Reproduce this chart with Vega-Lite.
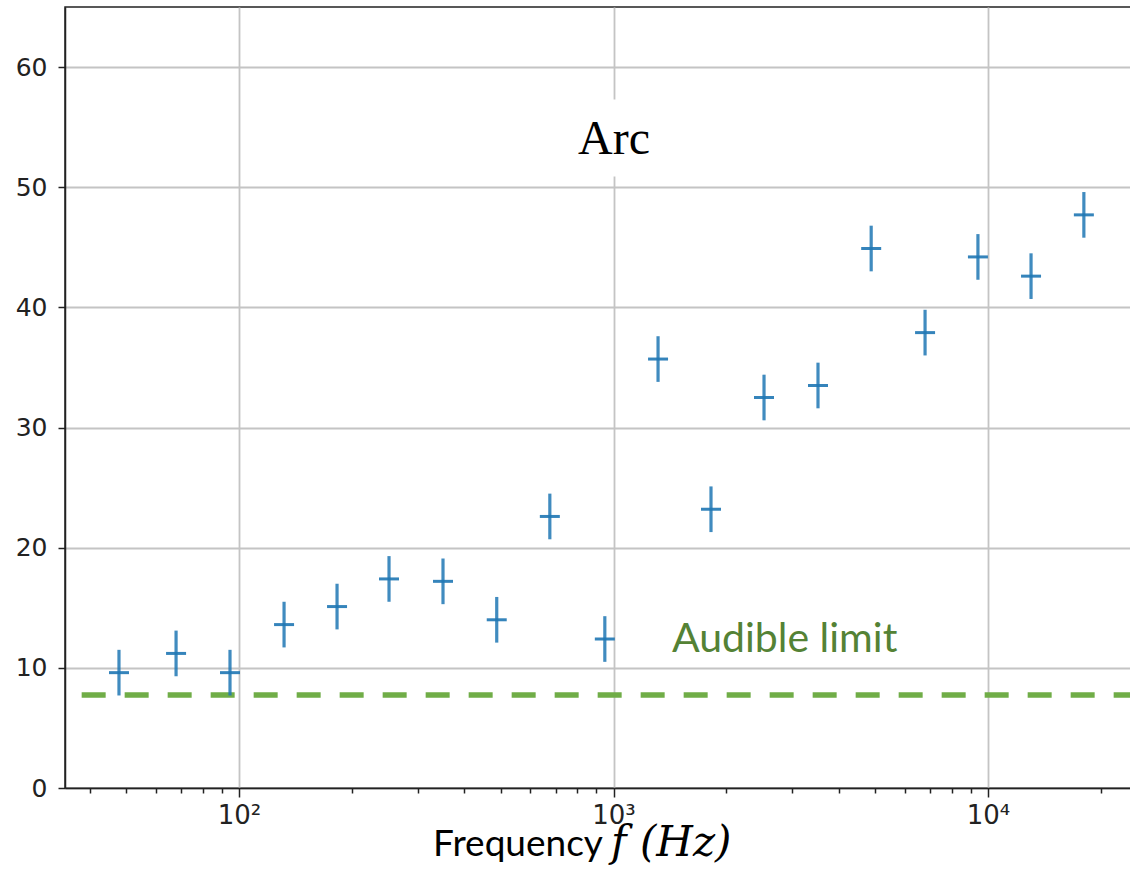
{
  "$schema": "https://vega.github.io/schema/vega-lite/v6.json",
  "width": 1067,
  "height": 781,
  "autosize": "none",
  "padding": {"left": 65, "top": 7, "right": 0, "bottom": 90},
  "background": "white",
  "datasets": {
    "points": [
      {"f": 47.8, "v": 9.6, "err": 1.9},
      {"f": 67.9, "v": 11.2, "err": 1.9},
      {"f": 94.6, "v": 9.6, "err": 1.9},
      {"f": 131.9, "v": 13.6, "err": 1.9},
      {"f": 182.7, "v": 15.1, "err": 1.9},
      {"f": 251.5, "v": 17.4, "err": 1.9},
      {"f": 350.5, "v": 17.2, "err": 1.9},
      {"f": 487.7, "v": 14.0, "err": 1.9},
      {"f": 676, "v": 22.6, "err": 1.9},
      {"f": 948, "v": 12.4, "err": 1.9},
      {"f": 1315, "v": 35.7, "err": 1.9},
      {"f": 1821, "v": 23.2, "err": 1.9},
      {"f": 2523, "v": 32.5, "err": 1.9},
      {"f": 3516, "v": 33.5, "err": 1.9},
      {"f": 4876, "v": 44.9, "err": 1.9},
      {"f": 6791, "v": 37.9, "err": 1.9},
      {"f": 9400, "v": 44.2, "err": 1.9},
      {"f": 13030, "v": 42.6, "err": 1.9},
      {"f": 18030, "v": 47.7, "err": 1.9}
    ],
    "one": [{"k": 1}]
  },
  "resolve": {"axis": {"x": "independent"}},
  "layer": [
    {
      "data": {"name": "one"},
      "mark": {"type": "rect", "color": "white"},
      "encoding": {
        "x": {"datum": 760, "type": "quantitative", "scale": {"type": "log", "domain": [34.3, 24240], "nice": false}, "axis": null},
        "x2": {"datum": 1300},
        "y": {"datum": 50.9, "type": "quantitative", "scale": {"domain": [0, 65], "nice": false}, "title": null},
        "y2": {"datum": 57.3}
      }
    },
    {
      "data": {"name": "one"},
      "mark": {"type": "rule", "color": "#70AD47", "strokeWidth": 5.5, "strokeDash": [24, 19]},
      "encoding": {
        "x": {"datum": 38.0, "type": "quantitative", "axis": {"orient": "bottom", "values": [40, 50, 60, 70, 80, 90, 200, 300, 400, 500, 600, 700, 800, 900, 2000, 3000, 4000, 5000, 6000, 7000, 8000, 9000, 20000], "labels": false, "grid": false, "domain": false, "tickSize": 5, "title": null}},
        "x2": {"datum": 24240},
        "y": {"datum": 7.75, "type": "quantitative", "title": null}
      }
    },
    {
      "data": {"name": "points"},
      "mark": {"type": "errorbar", "color": "#1f77b4", "opacity": 0.85, "thickness": 3.2},
      "encoding": {
        "x": {"field": "f", "type": "quantitative", "axis": {"orient": "bottom", "values": [100, 1000, 10000], "labelExpr": "datum.value == 100 ? '10²' : datum.value == 1000 ? '10³' : '10⁴'", "grid": true, "tickSize": 9, "labelPadding": 5, "labelFontSize": 26, "title": null}},
        "y": {"field": "v", "type": "quantitative", "axis": {"values": [0, 10, 20, 30, 40, 50, 60], "title": null, "grid": true}},
        "yError": {"field": "err"}
      }
    },
    {
      "data": {"name": "points"},
      "mark": {"type": "tick", "orient": "horizontal", "color": "#1f77b4", "opacity": 0.9, "size": 20, "thickness": 3},
      "encoding": {
        "x": {"field": "f", "type": "quantitative", "axis": null},
        "y": {"field": "v", "type": "quantitative", "title": null}
      }
    },
    {
      "data": {"name": "one"},
      "mark": {"type": "text", "text": "Arc", "font": "Liberation Serif", "fontSize": 48, "color": "black", "align": "center", "baseline": "alphabetic"},
      "encoding": {
        "x": {"datum": 1003, "type": "quantitative", "axis": null},
        "y": {"datum": 52.77, "type": "quantitative", "title": null}
      }
    },
    {
      "data": {"name": "one"},
      "mark": {"type": "text", "text": "Audible limit", "font": "Lato", "fontSize": 41, "color": "#548235", "align": "left", "baseline": "alphabetic"},
      "encoding": {
        "x": {"datum": 1432, "type": "quantitative", "axis": null},
        "y": {"datum": 11.32, "type": "quantitative", "title": null}
      }
    },
    {
      "data": {"name": "one"},
      "mark": {"type": "text", "text": "Frequency", "font": "Lato", "fontSize": 37, "color": "black", "align": "right", "baseline": "alphabetic"},
      "encoding": {
        "x": {"datum": 937, "type": "quantitative", "axis": null},
        "y": {"datum": -5.65, "type": "quantitative", "title": null}
      }
    },
    {
      "data": {"name": "one"},
      "mark": {"type": "text", "text": "f (Hz)", "font": "DejaVu Serif", "fontStyle": "italic", "fontSize": 42, "color": "black", "align": "left", "baseline": "alphabetic"},
      "encoding": {
        "x": {"datum": 985, "type": "quantitative", "axis": null},
        "y": {"datum": -5.65, "type": "quantitative", "title": null}
      }
    }
  ],
  "config": {
    "view": {"stroke": "#222", "strokeWidth": 1.5},
    "axis": {
      "domainColor": "#222",
      "domainWidth": 1.5,
      "tickColor": "#222",
      "tickWidth": 1.5,
      "gridColor": "#c4c4c4",
      "gridWidth": 1.8,
      "labelFont": "DejaVu Sans",
      "labelFontSize": 25,
      "labelColor": "#222"
    },
    "axisY": {"tickSize": 7, "labelPadding": 11}
  }
}
